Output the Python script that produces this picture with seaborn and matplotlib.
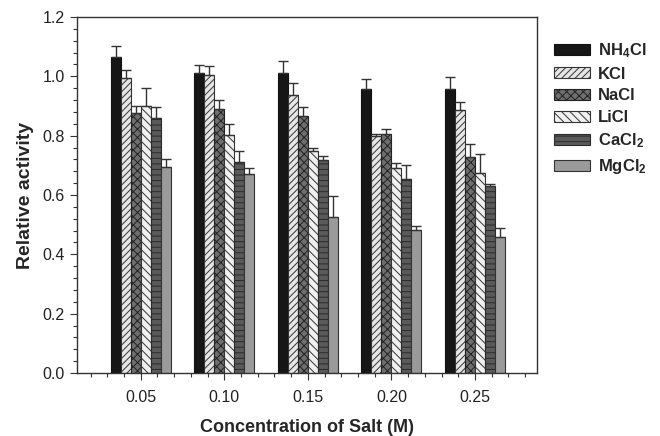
import numpy as np
import pandas as pd
import matplotlib
matplotlib.use("Agg")
import matplotlib.pyplot as plt
from matplotlib.ticker import MultipleLocator, FixedLocator
import seaborn as sns

# Data
conc = ["0.05", "0.10", "0.15", "0.20", "0.25"]
salts = ["NH$_4$Cl", "KCl", "NaCl", "LiCl", "CaCl$_2$", "MgCl$_2$"]

nh4cl = [1.066, 1.010, 1.012, 0.956, 0.956]
kcl = [0.993, 1.005, 0.936, 0.800, 0.886]
nacl = [0.875, 0.890, 0.867, 0.807, 0.727]
licl = [0.901, 0.801, 0.749, 0.692, 0.675]
cacl2 = [0.858, 0.710, 0.718, 0.655, 0.630]
mgcl2 = [0.695, 0.671, 0.525, 0.482, 0.459]

nh4cl_err = [0.036, 0.027, 0.040, 0.035, 0.042]
kcl_err = [0.030, 0.030, 0.040, 0.004, 0.026]
nacl_err = [0.026, 0.030, 0.029, 0.014, 0.044]
licl_err = [0.060, 0.040, 0.008, 0.015, 0.062]
cacl2_err = [0.040, 0.039, 0.015, 0.046, 0.006]
mgcl2_err = [0.027, 0.020, 0.070, 0.013, 0.030]

values = [nh4cl, kcl, nacl, licl, cacl2, mgcl2]
errors = [nh4cl_err, kcl_err, nacl_err, licl_err, cacl2_err, mgcl2_err]

rows = []
for s, vals in zip(salts, values):
    for c, v in zip(conc, vals):
        rows.append({"conc": c, "salt": s, "activity": v})
df = pd.DataFrame(rows)

sns.set_style("ticks")
plt.rcParams["font.family"] = ["Liberation Sans", "DejaVu Sans"]
plt.rcParams["mathtext.fontset"] = "custom"
plt.rcParams["mathtext.rm"] = "Liberation Sans:bold"
plt.rcParams["mathtext.default"] = "rm"
plt.rcParams["hatch.linewidth"] = 0.7

faces = ["#161616", "#e6e6e6", "#6e6e6e", "#f0f0f0", "#5a5a5a", "#9a9a9a"]
hatches = [None, "/////", "xxxx", "\\\\\\\\", "---", None]
edges = ["#111111", "#333333", "#222222", "#333333", "#2a2a2a", "#333333"]

fig = plt.figure(figsize=(6.6, 4.36), dpi=100)
ax = fig.add_axes([0.1167, 0.1445, 0.6969, 0.8165])

sns.barplot(data=df, x="conc", y="activity", hue="salt", hue_order=salts,
            palette=faces, width=0.72, gap=0, errorbar=None, ax=ax,
            legend=False, saturation=1)

for cont, h, ec, err in zip(ax.containers, hatches, edges, errors):
    xs, ys = [], []
    for bar in cont:
        if h:
            bar.set_hatch(h)
        bar.set_edgecolor(ec)
        bar.set_linewidth(0.8)
        xs.append(bar.get_x() + bar.get_width() / 2)
        ys.append(bar.get_height())
    ax.errorbar(xs, ys, yerr=[np.zeros(len(err)), err], fmt="none",
                ecolor="#333333", elinewidth=1, capsize=3.6, capthick=1)

ax.set_xlim(-0.762, 4.742)
ax.set_ylim(0, 1.2)
ax.yaxis.set_minor_locator(MultipleLocator(0.04))
ax.xaxis.set_minor_locator(FixedLocator(np.arange(-0.6, 4.7, 0.2)))
ax.set_yticks(np.arange(0, 1.21, 0.2))
ax.set_yticklabels([f"{t:.1f}" for t in np.arange(0, 1.21, 0.2)])

for sp in ax.spines.values():
    sp.set_color("#333333")
    sp.set_linewidth(1)
ax.tick_params(axis="both", which="major", length=5, width=0.8,
               color="#333333", labelsize=11.5, labelcolor="#222222")
ax.tick_params(axis="both", which="minor", length=3, width=0.8,
               color="#333333")
ax.tick_params(axis="x", pad=7)
ax.tick_params(axis="y", pad=4)

ax.set_xlabel("Concentration of Salt (M)", fontsize=13, fontweight="bold",
              labelpad=10)
ax.set_ylabel("Relative activity", fontsize=14, fontweight="bold",
              labelpad=6)

handles = [cont[0] for cont in ax.containers]
fig.legend(handles, salts, loc="upper left", bbox_to_anchor=(0.839, 0.905),
           frameon=False, handlelength=2.16, handleheight=0.65,
           handletextpad=0.5, labelspacing=0.4, borderpad=0,
           borderaxespad=0, prop={"weight": "bold", "size": 12})

fig.savefig("out.png", dpi=100)
